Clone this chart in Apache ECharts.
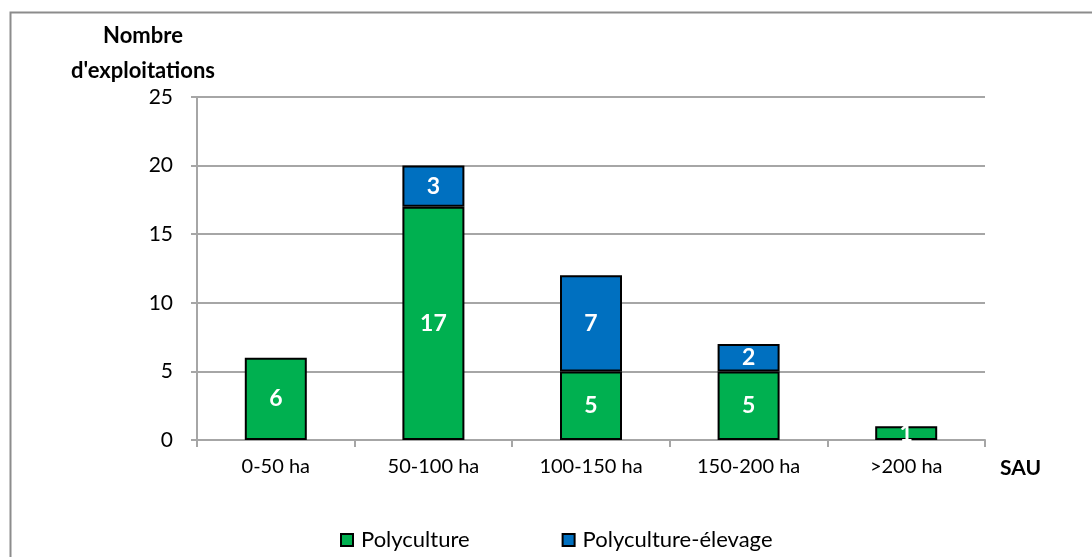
<!DOCTYPE html>
<html>
<head>
<meta charset="utf-8">
<script src="https://cdn.jsdelivr.net/npm/echarts@6/dist/echarts.min.js"></script>
<style>
  html, body { margin: 0; padding: 0; background: #fff; }
  #chart { width: 1092px; height: 557px; }
</style>
</head>
<body>
<div id="chart"></div>
<script>
// Farm counts by utilised agricultural area (SAU) and farming type
const categories = ['0-50 ha', '50-100 ha', '100-150 ha', '150-200 ha', '>200 ha'];
const polyculture = [6, 17, 5, 5, 1];
const polycultureElevage = [null, 3, 7, 2, null];
const yTicks = { min: 0, max: 25, interval: 5 };

const FONT = 'Lato, "Noto Sans", sans-serif';
const GRID = '#a6a6a6';

const chart = echarts.init(document.getElementById('chart'), null, { renderer: 'canvas' });

const barLabel = {
  show: true,
  position: 'inside',
  color: '#fff',
  fontWeight: 'bold',
  fontSize: 23,
  fontFamily: FONT,
  formatter: p => (p.value == null || p.value === 0) ? '' : String(p.value)
};

chart.setOption({
  animation: false,
  backgroundColor: '#fff',
  textStyle: { fontFamily: FONT },
  graphic: [
    {
      type: 'rect',
      shape: { x: 10.5, y: 12.5, width: 1100, height: 600 },
      style: { fill: 'none', stroke: '#8c8c8c', lineWidth: 2 },
      silent: true
    },
    {
      type: 'text',
      x: 143, y: 18,
      style: {
        text: "Nombre\nd'exploitations",
        fontFamily: FONT, fontWeight: 'bold', fontSize: 22,
        fill: '#000', align: 'center', verticalAlign: 'top', lineHeight: 35
      }
    },
    {
      type: 'text',
      x: 1000, y: 468,
      style: { text: 'SAU', fontFamily: FONT, fontWeight: 'bold', fontSize: 21, fill: '#000', verticalAlign: 'middle' }
    }
  ],
  grid: { left: 197, right: 107, top: 97, bottom: 117, containLabel: false },
  legend: {
    top: 529,
    left: 340,
    padding: 0,
    itemWidth: 12,
    itemHeight: 12,
    itemGap: 92,
    icon: 'rect',
    textStyle: { fontFamily: FONT, fontSize: 22, color: '#000', padding: [0, 0, 0, 3] },
    data: ['Polyculture', 'Polyculture-élevage']
  },
  xAxis: {
    type: 'category',
    data: categories,
    axisLine: { show: true, lineStyle: { color: GRID, width: 2 } },
    axisTick: { show: true, length: 7, lineStyle: { color: GRID, width: 2 } },
    axisLabel: { color: '#000', fontSize: 20, fontFamily: FONT, margin: 17 },
    splitLine: { show: false }
  },
  yAxis: {
    type: 'value',
    min: yTicks.min,
    max: yTicks.max,
    interval: yTicks.interval,
    axisLine: { show: true, lineStyle: { color: GRID, width: 2 } },
    axisTick: { show: true, length: 6, lineStyle: { color: GRID, width: 2 } },
    axisLabel: { color: '#000', fontSize: 21, fontFamily: FONT, margin: 24 },
    splitLine: { show: true, lineStyle: { color: GRID, width: 2 } }
  },
  series: [
    {
      name: 'Polyculture',
      type: 'bar',
      stack: 'total',
      barWidth: 62,
      data: polyculture,
      itemStyle: { color: '#00b050', borderColor: '#000', borderWidth: 2 },
      label: barLabel
    },
    {
      name: 'Polyculture-élevage',
      type: 'bar',
      stack: 'total',
      barWidth: 62,
      data: polycultureElevage,
      itemStyle: { color: '#0070c0', borderColor: '#000', borderWidth: 2 },
      label: barLabel
    }
  ]
});
</script>
</body>
</html>
